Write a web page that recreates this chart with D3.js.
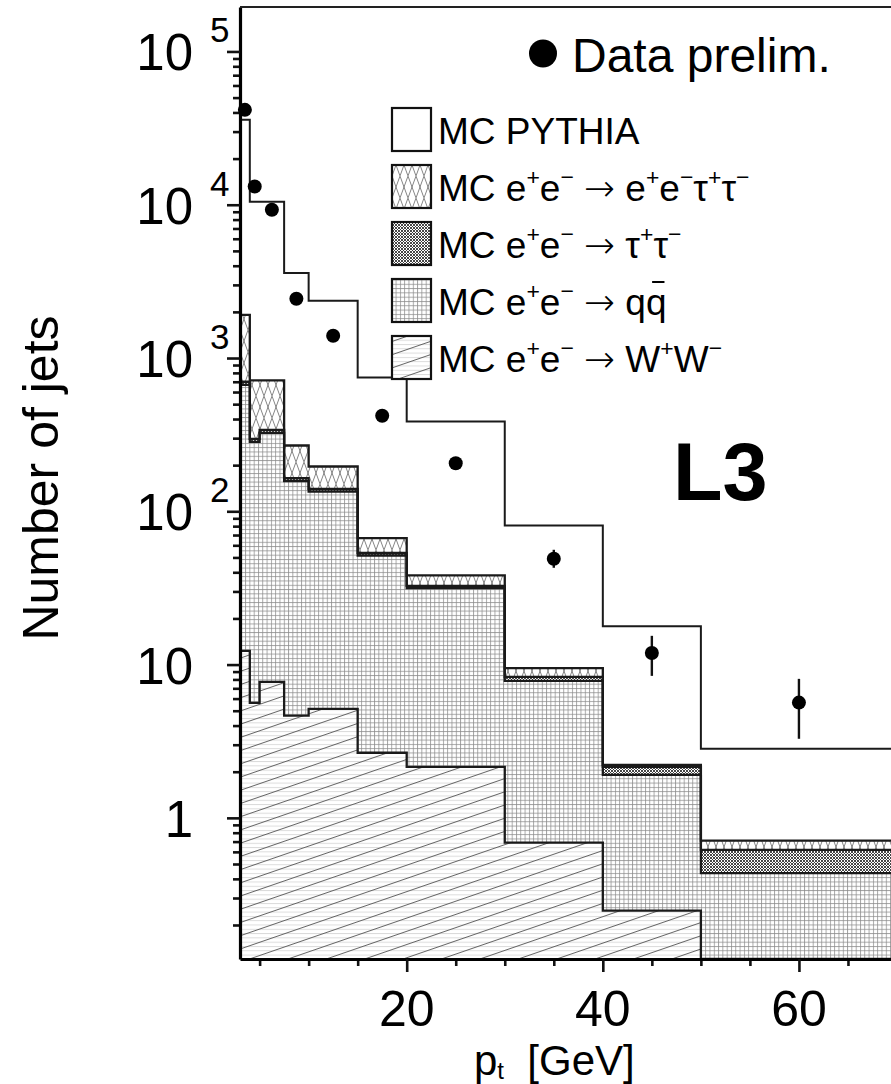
<!DOCTYPE html>
<html><head><meta charset="utf-8">
<script src="https://cdnjs.cloudflare.com/ajax/libs/d3/7.8.5/d3.min.js"></script>
<style>
html,body{margin:0;padding:0;background:#fff;}
svg{display:block;font-family:"Liberation Sans",Arial,Helvetica,sans-serif;}
</style>
</head><body>
<svg id="c" width="891" height="1084"></svg>
<script>
// ---------- data ----------
const binEdges   = [3, 4, 5, 7.5, 10, 15, 20, 30, 40, 50, 70];
const mcWW       = [12.3, 5.63, 7.72, 4.65, 5.14, 2.66, 2.15, 0.69, 0.248, 0];
const mcQQ       = [656, 278, 317, 153, 129.5, 48.8, 29.4, 7.14, 1.66, 0.436];
const mcTauTau   = [32, 13, 15, 7, 5.4, 2.1, 1.1, 0.49, 0.24, 0.182];
const mcEETauTau = [1214, 418, 375, 104, 56, 13.2, 5.5, 1.16, 0.07, 0.093];
const mcPythia   = [33886, 9735, 9735, 3312, 2166, 679, 347, 71.3, 15.6, 2.11];
const dataX      = [3.5, 4.5, 6.25, 8.75, 12.5, 17.5, 25, 35, 45, 60];
const dataY      = [41600, 13160, 9270, 2434, 1396, 420, 206, 49.0, 11.9, 5.65];
const dataErrUp  = [200, 115, 96, 50, 37, 20, 14, 7.1, 3.5, 2.42];
const dataErrDn  = [200, 115, 96, 50, 37, 20, 14, 6.2, 3.46, 2.37];
const yMajorTicks = [1, 10, 100, 1000, 10000, 100000];
const yMinorTicks = [0.2,0.3,0.4,0.5,0.6,0.7,0.8,0.9,2,3,4,5,6,7,8,9,20,30,40,50,60,70,80,90,
                     200,300,400,500,600,700,800,900,2000,3000,4000,5000,6000,7000,8000,9000,
                     20000,30000,40000,50000,60000,70000,80000,90000];
const xMajorTicks = [20, 40, 60];
const xMinorTicks = [5, 10, 15, 25, 30, 35, 45, 50, 55, 65, 70];
const legendLabels = ["MC PYTHIA", "MC e^+e^− → e^+e^−τ^+τ^−", "MC e^+e^− → τ^+τ^−", "MC e^+e^− → qq", "MC e^+e^− → W^+W^−"];

// ---------- setup ----------
const svg = d3.select("#c");
const x = d3.scaleLinear().domain([3, 70]).range([240, 897]);
const y = d3.scaleLog().domain([0.12, 1.95e5]).range([959, 7]);
const yMin = 0.12;
const cl = v => Math.max(v, yMin);

const defs = svg.append("defs");
defs.append("clipPath").attr("id", "plotclip").append("rect")
  .attr("x", 240).attr("y", 7).attr("width", 657).attr("height", 952);

// qq grid
const pQQ = defs.append("pattern").attr("id", "pQQ").attr("patternUnits", "userSpaceOnUse").attr("width", 4.3).attr("height", 4.3);
pQQ.append("rect").attr("width", 4.3).attr("height", 4.3).attr("fill", "#fff");
pQQ.append("path").attr("d", "M0,0.5H4.3M0.5,0V4.3").attr("stroke", "#8a8a8a").attr("stroke-width", 0.75);
// WW horizontal faint
const pWWh = defs.append("pattern").attr("id", "pWWh").attr("patternUnits", "userSpaceOnUse").attr("width", 4).attr("height", 4.3);
pWWh.append("rect").attr("width", 4).attr("height", 4.3).attr("fill", "#fff");
pWWh.append("path").attr("d", "M0,0.5H4").attr("stroke", "#cfcfcf").attr("stroke-width", 0.8);
// WW diagonal
const pWWd = defs.append("pattern").attr("id", "pWWd").attr("patternUnits", "userSpaceOnUse")
  .attr("width", 30).attr("height", 12.5).attr("patternTransform", "rotate(-19)");
pWWd.append("path").attr("d", "M0,0.5H30").attr("stroke", "#555").attr("stroke-width", 0.9);
// e+e- tau tau diamond
const pEE = defs.append("pattern").attr("id", "pEE").attr("patternUnits", "userSpaceOnUse").attr("width", 8).attr("height", 22);
pEE.append("rect").attr("width", 8).attr("height", 22).attr("fill", "#fff");
pEE.append("path").attr("d", "M0,0L8,22M8,0L0,22").attr("stroke", "#666").attr("stroke-width", 0.8);
// tau tau dense
const pTT = defs.append("pattern").attr("id", "pTT").attr("patternUnits", "userSpaceOnUse").attr("width", 3).attr("height", 3);
pTT.append("rect").attr("width", 3).attr("height", 3).attr("fill", "#fff");
pTT.append("path").attr("d", "M0,0L3,3M3,0L0,3").attr("stroke", "#333").attr("stroke-width", 0.9);

// ---------- stack ----------
const rows = binEdges.slice(0, -1).map((e, i) => ({
  lo: e, hi: binEdges[i + 1],
  ww: mcWW[i], qq: mcQQ[i], tt: mcTauTau[i], eett: mcEETauTau[i], py: mcPythia[i]
}));
const keys = ["ww", "qq", "tt", "eett", "py"];
const series = d3.stack().keys(keys)(rows);
const fills = { ww: ["url(#pWWh)", "url(#pWWd)"], qq: ["url(#pQQ)"], tt: ["url(#pTT)"], eett: ["url(#pEE)"], py: [] };

const area = d3.area().x(d => x(d.x)).y0(d => y(cl(d.y0))).y1(d => y(cl(d.y1)));
const line = d3.line().x(d => x(d.x)).y(d => y(cl(d.y1)));

const plot = svg.append("g").attr("clip-path", "url(#plotclip)");
const layerPts = series.map(s => s.flatMap(d => [
  { x: d.data.lo, y0: d[0], y1: d[1] }, { x: d.data.hi, y0: d[0], y1: d[1] }
]));
series.forEach((s, k) => {
  fills[s.key].forEach(f => {
    plot.append("path").attr("d", area(layerPts[k])).attr("fill", f).attr("stroke", "none");
  });
});
series.forEach((s, k) => {
  const pts = [{ x: binEdges[0], y1: yMin }].concat(layerPts[k]).concat([{ x: binEdges[binEdges.length - 1], y1: yMin }]);
  plot.append("path").attr("d", line(pts)).attr("fill", "none")
    .attr("stroke", "#1a1a1a").attr("stroke-width", s.key === "py" ? 2 : 2.3)
    .attr("stroke-linejoin", "miter");
});

// ---------- axes ----------
const axG = svg.append("g");
axG.append("g").attr("transform", "translate(240,0)")
  .call(d3.axisLeft(y).tickValues(yMinorTicks).tickSize(7).tickSizeOuter(0).tickFormat(""))
  .call(g => g.select(".domain").remove());
axG.append("g").attr("transform", "translate(240,0)")
  .call(d3.axisLeft(y).tickValues(yMajorTicks).tickSize(13).tickSizeOuter(0).tickFormat(""))
  .call(g => g.select(".domain").attr("stroke-width", 3.2));
axG.append("g").attr("transform", "translate(0,959)")
  .call(d3.axisBottom(x).tickValues(xMinorTicks).tickSize(7).tickSizeOuter(0).tickFormat(""))
  .call(g => g.select(".domain").remove());
axG.append("g").attr("transform", "translate(0,959)")
  .call(d3.axisBottom(x).tickValues(xMajorTicks).tickSize(13).tickSizeOuter(0).tickFormat(""))
  .call(g => g.select(".domain").attr("stroke-width", 3));
axG.selectAll(".tick line").attr("stroke", "#111").attr("stroke-width", 2.6);
// top frame
svg.append("line").attr("x1", x(3)).attr("x2", x(70)).attr("y1", y.range()[1]).attr("y2", y.range()[1])
  .attr("stroke", "#222").attr("stroke-width", 1.8);

// y tick labels
yMajorTicks.forEach(t => {
  const e = Math.round(Math.log10(t));
  const ty = y(t);
  svg.append("text").attr("x", 193).attr("y", ty + 19).attr("text-anchor", "end")
    .attr("font-size", 51).text(e === 0 ? "1" : "10");
  if (e > 1) {
    svg.append("text").attr("x", 210).attr("y", ty - 9).attr("font-size", 35).text(String(e));
  }
});
// x tick labels
xMajorTicks.forEach(t => {
  svg.append("text").attr("x", x(t)).attr("y", 1026).attr("text-anchor", "middle")
    .attr("font-size", 50).text(String(t));
});
// axis titles
const xt = svg.append("text").attr("x", 474).attr("y", 1075).attr("font-size", 42);
xt.append("tspan").text("p");
xt.append("tspan").attr("font-size", 24).attr("dy", 4).text("t");
xt.append("tspan").attr("dy", -4).text("\u00a0\u00a0[GeV]");

svg.append("text").attr("transform", "translate(58,478) rotate(-90)").attr("text-anchor", "middle")
  .attr("font-size", 50).text("Number of jets");

// L3
svg.append("text").attr("x", 673).attr("y", 500).attr("font-size", 81).attr("font-weight", "bold").text("L3");

// ---------- data points ----------
const dg = svg.append("g");
dataX.forEach((dx, i) => {
  dg.append("line").attr("x1", x(dx)).attr("x2", x(dx))
    .attr("y1", y(dataY[i] + dataErrUp[i])).attr("y2", y(dataY[i] - dataErrDn[i]))
    .attr("stroke", "#111").attr("stroke-width", 2.4);
  dg.append("circle").attr("cx", x(dx)).attr("cy", y(dataY[i])).attr("r", 7).attr("fill", "#000");
});

// ---------- legend ----------
svg.append("circle").attr("cx", 543).attr("cy", 53.5).attr("r", 14).attr("fill", "#000");
svg.append("text").attr("x", 572).attr("y", 71.5).attr("font-size", 48).text("Data prelim.");

function richText(g, tx, ty, str, size) {
  const t = g.append("text").attr("x", tx).attr("y", ty).attr("font-size", size);
  const sh = 0.42 * size;
  let buf = "", i = 0, raised = false;
  const flush = () => {
    if (!buf) return;
    const parts = buf.split("→");
    parts.forEach((p, j) => {
      if (p) { const s = t.append("tspan").text(p); if (raised) { s.attr("dy", sh); raised = false; } }
      if (j < parts.length - 1) {
        const a = t.append("tspan").attr("font-family", "DejaVu Sans").attr("font-weight", "200").text("→");
        if (raised) { a.attr("dy", sh); raised = false; }
      }
    });
    buf = "";
  };
  while (i < str.length) {
    if (str[i] === "^") {
      flush();
      const s = t.append("tspan").attr("font-size", size * 0.62).text(str[i + 1]);
      s.attr("dy", raised ? 0 : -sh);
      raised = true;
      i += 2;
    } else { buf += str[i]; i++; }
  }
  flush();
  return t;
}
const legFills = [[], ["url(#pEE)"], ["url(#pTT)"], ["url(#pQQ)"], ["url(#pWWh)", "url(#pWWd)"]];
const lg = svg.append("g");
legendLabels.forEach((lab, k) => {
  const top = 108 + k * 57;
  lg.append("rect").attr("x", 392).attr("y", top).attr("width", 39).attr("height", 43).attr("fill", "#fff");
  legFills[k].forEach(f => lg.append("rect").attr("x", 392).attr("y", top).attr("width", 39).attr("height", 43).attr("fill", f));
  lg.append("rect").attr("x", 392).attr("y", top).attr("width", 39).attr("height", 43)
    .attr("fill", "none").attr("stroke", "#111").attr("stroke-width", 2.2);
  const t = richText(lg, 438, top + 36, lab, 37);
  if (k === 3) {
    const node = t.node();
    const n = node.getNumberOfChars();
    const ext = node.getExtentOfChar(n - 1);
    lg.append("line").attr("x1", ext.x + ext.width * 0.3).attr("x2", ext.x + ext.width * 0.9)
      .attr("y1", top + 36 - 33).attr("y2", top + 36 - 33).attr("stroke", "#000").attr("stroke-width", 2);
  }
});
</script>
</body></html>
